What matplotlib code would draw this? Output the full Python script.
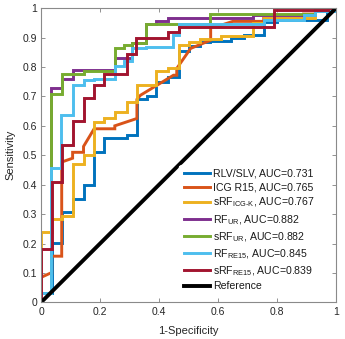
import matplotlib
matplotlib.use("Agg")
import matplotlib.pyplot as plt

plt.rcParams['font.family'] = ['Liberation Sans', 'DejaVu Sans']
plt.rcParams['mathtext.fontset'] = 'custom'
plt.rcParams['mathtext.rm'] = 'Liberation Sans'

# ROC curve vertices (1-Specificity, Sensitivity)
blue_x = [0, 0, 0.036, 0.036, 0.07, 0.07, 0.107, 0.107, 0.144, 0.144, 0.18, 0.18, 0.215, 0.215, 0.29, 0.29, 0.325, 0.325, 0.36, 0.36, 0.39, 0.39, 0.43, 0.43, 0.467, 0.467, 0.5, 0.5, 0.54, 0.54, 0.574, 0.574, 0.645, 0.645, 0.687, 0.687, 0.755, 0.755, 0.80, 0.80, 0.97, 0.97, 1, 1]
blue_y = [0, 0.033, 0.033, 0.203, 0.203, 0.306, 0.306, 0.35, 0.35, 0.40, 0.40, 0.512, 0.512, 0.56, 0.56, 0.57, 0.57, 0.69, 0.69, 0.70, 0.70, 0.75, 0.75, 0.765, 0.765, 0.853, 0.853, 0.87, 0.87, 0.885, 0.885, 0.89, 0.89, 0.90, 0.90, 0.91, 0.91, 0.953, 0.953, 0.96, 0.96, 0.99, 0.99, 1.0]

orange_x = [0, 0, 0.033, 0.036, 0.036, 0.07, 0.07, 0.107, 0.107, 0.144, 0.144, 0.18, 0.25, 0.25, 0.325, 0.325, 0.337, 0.393, 0.449, 0.46, 0.46, 0.507, 0.507, 0.575, 0.575, 0.61, 0.65, 0.755, 0.755, 0.89, 0.89, 0.93, 0.93, 1]
orange_y = [0, 0.085, 0.10, 0.10, 0.157, 0.157, 0.477, 0.49, 0.51, 0.51, 0.53, 0.59, 0.59, 0.60, 0.625, 0.69, 0.704, 0.738, 0.772, 0.772, 0.795, 0.863, 0.863, 0.891, 0.942, 0.942, 0.955, 0.955, 0.965, 0.965, 0.98, 0.98, 1.0, 1.0]

yellow_x = [0, 0, 0.036, 0.036, 0.07, 0.07, 0.107, 0.107, 0.144, 0.144, 0.18, 0.18, 0.215, 0.215, 0.25, 0.25, 0.29, 0.29, 0.325, 0.325, 0.39, 0.39, 0.43, 0.43, 0.467, 0.467, 0.5, 0.5, 0.54, 0.54, 0.61, 0.61, 0.717, 0.717, 0.755, 0.755, 0.93, 0.93, 1]
yellow_y = [0, 0.24, 0.24, 0.285, 0.285, 0.295, 0.295, 0.47, 0.47, 0.50, 0.50, 0.613, 0.613, 0.625, 0.625, 0.648, 0.648, 0.68, 0.68, 0.74, 0.74, 0.785, 0.785, 0.795, 0.795, 0.875, 0.875, 0.885, 0.885, 0.895, 0.895, 0.905, 0.905, 0.948, 0.948, 0.965, 0.965, 1.0, 1.0]

purple_x = [0, 0, 0.033, 0.033, 0.07, 0.07, 0.107, 0.107, 0.25, 0.25, 0.31, 0.31, 0.355, 0.355, 0.39, 0.39, 0.43, 0.43, 0.72, 0.72, 0.93, 0.93, 0.97, 0.97, 1]
purple_y = [0, 0.033, 0.033, 0.727, 0.727, 0.76, 0.76, 0.79, 0.79, 0.83, 0.83, 0.88, 0.88, 0.946, 0.946, 0.955, 0.955, 0.965, 0.965, 0.975, 0.975, 0.99, 0.99, 1.0, 1.0]

green_x = [0, 0, 0.033, 0.033, 0.07, 0.07, 0.144, 0.144, 0.25, 0.25, 0.28, 0.28, 0.31, 0.31, 0.355, 0.355, 0.574, 0.574, 0.89, 0.89, 0.93, 0.93, 1]
green_y = [0, 0.033, 0.033, 0.707, 0.707, 0.776, 0.776, 0.785, 0.785, 0.865, 0.865, 0.875, 0.875, 0.88, 0.88, 0.946, 0.946, 0.98, 0.98, 0.98, 0.98, 1.0, 1.0]

lblue_x = [0, 0, 0.035, 0.035, 0.068, 0.068, 0.107, 0.107, 0.144, 0.144, 0.18, 0.18, 0.25, 0.25, 0.28, 0.28, 0.31, 0.31, 0.355, 0.355, 0.449, 0.449, 0.467, 0.467, 0.755, 0.755, 0.89, 0.89, 0.93, 0.93, 1, 1]
lblue_y = [0, 0.033, 0.033, 0.456, 0.456, 0.636, 0.636, 0.738, 0.738, 0.757, 0.757, 0.76, 0.76, 0.805, 0.805, 0.82, 0.82, 0.863, 0.863, 0.868, 0.868, 0.91, 0.91, 0.946, 0.946, 0.959, 0.959, 0.975, 0.975, 0.99, 0.99, 1.0]

red_x = [0, 0, 0.036, 0.036, 0.07, 0.07, 0.107, 0.107, 0.144, 0.144, 0.18, 0.18, 0.215, 0.215, 0.29, 0.29, 0.323, 0.323, 0.43, 0.43, 0.467, 0.467, 0.79, 0.79, 0.972, 0.972, 1]
red_y = [0, 0.18, 0.18, 0.41, 0.41, 0.535, 0.535, 0.617, 0.617, 0.695, 0.695, 0.74, 0.74, 0.776, 0.776, 0.844, 0.844, 0.90, 0.90, 0.92, 0.92, 0.937, 0.937, 0.993, 0.993, 1.0, 1.0]

ref_x = [0, 1]
ref_y = [0, 1]

labels = ['RLV/SLV, AUC=0.731', 'ICG R15, AUC=0.765', r'sRF$_{\mathregular{ICG\text{-}K}}$, AUC=0.767',
          r'RF$_{\mathregular{UR}}$, AUC=0.882', r'sRF$_{\mathregular{UR}}$, AUC=0.882',
          r'RF$_{\mathregular{RE15}}$, AUC=0.845', r'sRF$_{\mathregular{RE15}}$, AUC=0.839', 'Reference']
colors = ['#0072BD', '#D95319', '#EDB120', '#7E2F8E', '#77AC30', '#4DBEEE', '#A2142F', '#000000']

curves = [(blue_x, blue_y), (orange_x, orange_y), (yellow_x, yellow_y), (purple_x, purple_y),
          (green_x, green_y), (lblue_x, lblue_y), (red_x, red_y), (ref_x, ref_y)]

fig = plt.figure(figsize=(3.45, 3.39), dpi=100)
ax = fig.add_axes([0.119, 0.108, 0.855, 0.868])

handles = []
for (x, y), c, lab in zip(curves, colors, labels):
    lw = 2.8 if c == '#000000' else 2.1
    h, = ax.plot(x, y, color=c, lw=lw, label=lab, solid_joinstyle='miter')
    handles.append(h)

ax.set_xlim(0, 1)
ax.set_ylim(0, 1)
ax.set_xticks([0, 0.2, 0.4, 0.6, 0.8, 1])
ax.set_xticklabels(['0', '0.2', '0.4', '0.6', '0.8', '1'])
ax.set_yticks([i / 10 for i in range(11)])
ax.set_yticklabels(['0'] + ['0.%d' % i for i in range(1, 10)] + ['1'])
ax.tick_params(direction='in', length=3, width=0.6, color='#808080', labelsize=7.5,
               labelcolor='#262626', top=True, right=True, pad=3)
for s in ax.spines.values():
    s.set_color('#8a8a8a')
    s.set_linewidth(0.8)
ax.set_xlabel('1-Specificity', fontsize=8, color='#262626', labelpad=7)
ax.set_ylabel('Sensitivity', fontsize=8, color='#262626', labelpad=5)

leg = ax.legend(handles=handles, loc='upper left', bbox_to_anchor=(0.469, 0.468),
                fontsize=7.6, frameon=True, framealpha=1, edgecolor='white',
                handlelength=2.5, handletextpad=0.25, labelspacing=0.33,
                borderpad=0.4, borderaxespad=0.0)
for t in leg.get_texts():
    t.set_color('#1a1a1a')

fig.savefig('out.png', dpi=100)
